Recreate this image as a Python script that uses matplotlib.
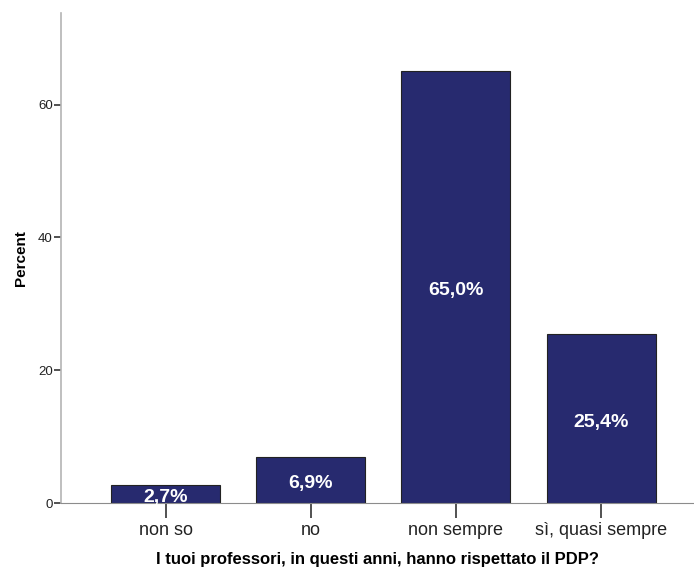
import matplotlib.pyplot as plt

categories = ["non so", "no", "non sempre", "sì, quasi sempre"]
percent = [2.7, 6.9, 65.0, 25.4]
bar_labels = ["2,7%", "6,9%", "65,0%", "25,4%"]
y_ticks = [0, 20, 40, 60]

plt.rcParams['font.family'] = ['Liberation Sans', 'DejaVu Sans']

fig = plt.figure(figsize=(6.94, 5.68), dpi=100)
ax = fig.add_axes([61 / 694, 65 / 568, 1 - 61 / 694, (503 - 13) / 568])

x = range(len(categories))
bars = ax.bar(x, percent, width=0.75, color="#272a6f", edgecolor="#222222", linewidth=0.8, zorder=2)

# value labels in the middle of each bar
for b, lab in zip(bars, bar_labels):
    ax.annotate(lab, (b.get_x() + b.get_width() / 2, b.get_height() / 2),
                xytext=(0, -2.5), textcoords="offset points",
                ha="center", va="center", color="white", fontsize=14, fontweight="bold")

ax.set_xlim(-0.72, 3.64)
ax.set_ylim(0, 73.8)
ax.set_yticks(y_ticks)
ax.set_yticklabels([str(t) for t in y_ticks], fontsize=9.5, color="#222222")
ax.set_xticks(list(x))
ax.set_xticklabels(categories, fontsize=13, color="#222222")

for s in ["top", "right"]:
    ax.spines[s].set_visible(False)
ax.spines["left"].set_color("#b4b4b4")
ax.spines["bottom"].set_color("#8c8c8c")
ax.spines["left"].set_linewidth(1.2)
ax.tick_params(axis="y", length=5, width=1.2, color="#333333", pad=1)
ax.tick_params(axis="x", length=11, width=1.2, color="#333333", pad=3)

ax.set_ylabel("Percent", fontsize=11, fontweight="bold", labelpad=7)
ax.set_xlabel("I tuoi professori, in questi anni, hanno rispettato il PDP?",
              fontsize=12, fontweight="bold", labelpad=9)

fig.savefig("out.png", dpi=100)
